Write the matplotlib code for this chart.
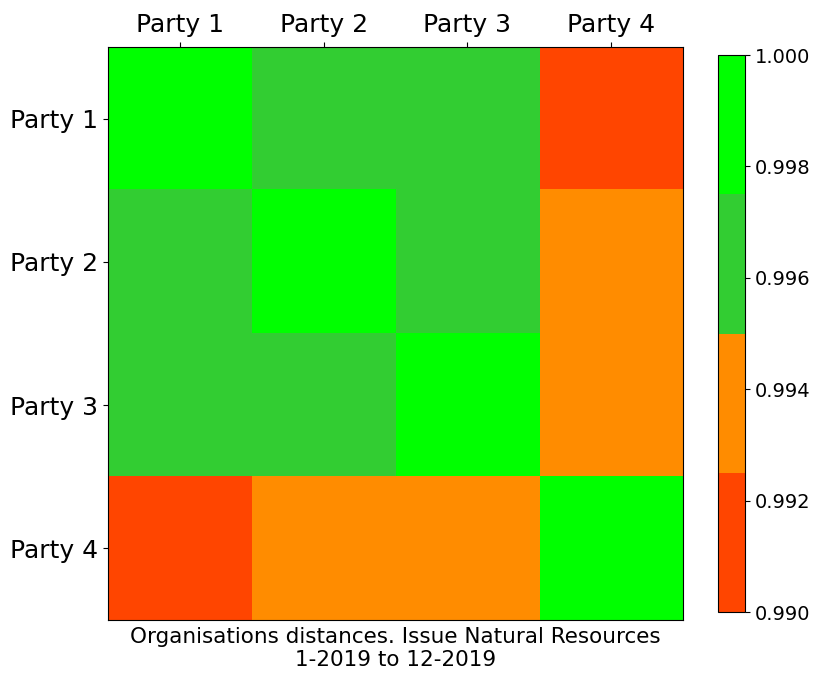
import numpy as np
import matplotlib
matplotlib.use("Agg")
from matplotlib import pyplot as plt
from matplotlib.colors import ListedColormap, BoundaryNorm

parties = ["Party 1", "Party 2", "Party 3", "Party 4"]

# similarity matrix
row_p1 = [1.000, 0.9965, 0.9965, 0.9910]
row_p2 = [0.9965, 1.000, 0.9965, 0.9940]
row_p3 = [0.9965, 0.9965, 1.000, 0.9940]
row_p4 = [0.9910, 0.9940, 0.9940, 1.000]

bounds = [0.990, 0.9925, 0.995, 0.9975, 1.000]
colours = ["#FF4500", "#FF8C00", "#32CD32", "#00FF00"]
cbar_ticks = [0.990, 0.992, 0.994, 0.996, 0.998, 1.000]

title = "Organisations distances. Issue Natural Resources\n1-2019 to 12-2019"


def main():
    data = np.array([row_p1, row_p2, row_p3, row_p4])
    cmap = ListedColormap(colours)
    norm = BoundaryNorm(bounds, cmap.N)

    fig = plt.figure(figsize=(8.13, 6.77), dpi=100)
    ax = fig.add_axes([0.1328, 0.0842, 0.7073, 0.8464])
    im = ax.imshow(data, cmap=cmap, norm=norm, aspect="auto")

    ax.set_xticks(range(len(parties)))
    ax.set_yticks(range(len(parties)))
    ax.set_xticklabels(parties, fontsize=18)
    ax.set_yticklabels(parties, fontsize=18)
    ax.xaxis.tick_top()
    ax.set_xlabel(title, fontsize=15.5, labelpad=5)

    cax = fig.add_axes([0.8831, 0.096, 0.0332, 0.8227])
    cb = fig.colorbar(im, cax=cax, ticks=cbar_ticks)
    cb.ax.minorticks_off()
    cb.ax.set_yticklabels(["{:.3f}".format(t) for t in cbar_ticks], fontsize=14)

    fig.savefig("out.png", dpi=100)


if __name__ == "__main__":
    main()
